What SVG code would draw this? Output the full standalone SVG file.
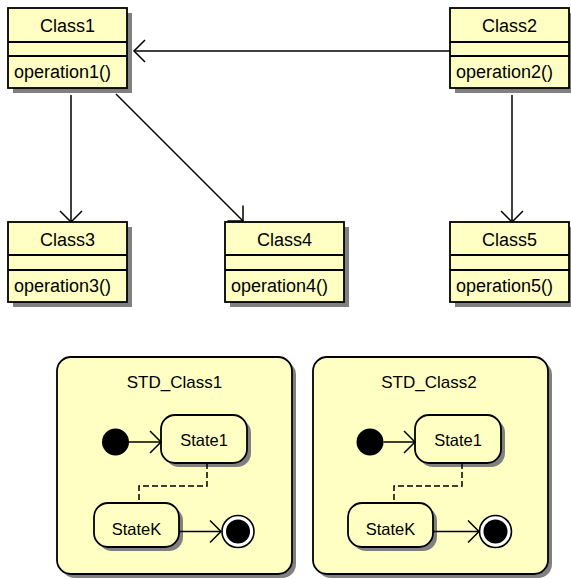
<svg xmlns="http://www.w3.org/2000/svg" width="571" height="579" viewBox="0 0 571 579">
  <style>
    .shadow { fill: #808080; stroke: none; }
    .box { fill: #FFFFC4; stroke: #000; stroke-width: 1.8; }
    .div { stroke: #000; stroke-width: 1.8; fill: none; }
    .t { font-family: "Liberation Sans", Arial, sans-serif; fill: #000; }
    .title { font-size: 18px; text-anchor: middle; }
    .op { font-size: 18px; }
    .std { font-size: 17px; text-anchor: middle; }
    .st { font-size: 16.5px; text-anchor: middle; }
    .edge { stroke: #000; stroke-width: 1.5; fill: none; }
    .dash { stroke: #000; stroke-width: 1.5; fill: none; stroke-dasharray: 6 3; }
    .dot { fill: #000; }
    .final { fill: #fff; stroke: #000; stroke-width: 1.6; }
  </style>
  <defs>
    <marker id="open" markerUnits="userSpaceOnUse" viewBox="-13 -13 15 26" markerWidth="15" markerHeight="26" refX="0" refY="0" orient="auto" overflow="visible">
      <path d="M-11,-11 L0,0 L-11,11" fill="none" stroke="#000" stroke-width="1.5"/>
    </marker>
  </defs>

  <rect width="571" height="579" fill="#fff"/>

  <!-- class boxes -->
  <g id="Class1">
    <rect class="shadow" x="13" y="13" width="119" height="80"/>
    <rect class="box" x="8" y="8" width="119" height="80"/>
    <path class="div" d="M8,42 H127 M8,56 H127"/>
    <text class="t title" x="67.5" y="32">Class1</text>
    <text class="t op" x="14" y="78">operation1()</text>
  </g>
  <g id="Class2">
    <rect class="shadow" x="455" y="13" width="119" height="80"/>
    <rect class="box" x="450" y="8" width="119" height="80"/>
    <path class="div" d="M450,42 H569 M450,56 H569"/>
    <text class="t title" x="509.5" y="32">Class2</text>
    <text class="t op" x="456" y="78">operation2()</text>
  </g>
  <g id="Class3">
    <rect class="shadow" x="13" y="227" width="119" height="80"/>
    <rect class="box" x="8" y="222" width="119" height="80"/>
    <path class="div" d="M8,255 H127 M8,270 H127"/>
    <text class="t title" x="67.5" y="246">Class3</text>
    <text class="t op" x="14" y="292">operation3()</text>
  </g>
  <g id="Class4">
    <rect class="shadow" x="230" y="227" width="119" height="80"/>
    <rect class="box" x="225" y="222" width="119" height="80"/>
    <path class="div" d="M225,255 H344 M225,270 H344"/>
    <text class="t title" x="284.5" y="246">Class4</text>
    <text class="t op" x="231" y="292">operation4()</text>
  </g>
  <g id="Class5">
    <rect class="shadow" x="455" y="227" width="119" height="80"/>
    <rect class="box" x="450" y="222" width="119" height="80"/>
    <path class="div" d="M450,255 H569 M450,270 H569"/>
    <text class="t title" x="509.5" y="246">Class5</text>
    <text class="t op" x="456" y="292">operation5()</text>
  </g>

  <!-- associations between classes -->
  <g id="class-connectors">
    <path class="edge" d="M450,51 H134" marker-end="url(#open)"/>
    <path class="edge" d="M71,95 V222" marker-end="url(#open)"/>
    <path class="edge" d="M116,94 L243,221" marker-end="url(#open)"/>
    <path class="edge" d="M512,95 V222" marker-end="url(#open)"/>
  </g>

  <!-- state machine for Class1 -->
  <g id="STD_Class1">
    <rect class="shadow" x="61" y="361" width="235" height="217" rx="14"/>
    <rect class="box" x="57" y="357" width="235" height="217" rx="14"/>
    <text class="t std" x="174.5" y="388">STD_Class1</text>
  </g>
  <g id="STD1_initial">
    <circle class="dot" cx="115.5" cy="442" r="13.5"/>
  </g>
  <g id="STD1_State1">
    <rect class="shadow" x="165" y="419" width="86" height="48" rx="14"/>
    <rect class="box" x="161" y="415" width="86" height="48" rx="14"/>
    <text class="t st" x="204" y="446">State1</text>
  </g>
  <g id="STD1_StateK">
    <rect class="shadow" x="98" y="507" width="85" height="44" rx="14"/>
    <rect class="box" x="94" y="503" width="85" height="44" rx="14"/>
    <text class="t st" x="136.5" y="535">StateK</text>
  </g>
  <g id="STD1_final">
    <circle class="final" cx="238" cy="531.5" r="16"/>
    <circle class="dot" cx="238" cy="531.5" r="12"/>
  </g>

  <!-- state machine for Class2 -->
  <g id="STD_Class2">
    <rect class="shadow" x="317" y="361" width="235" height="217" rx="14"/>
    <rect class="box" x="313" y="357" width="235" height="217" rx="14"/>
    <text class="t std" x="429" y="388">STD_Class2</text>
  </g>
  <g id="STD2_initial">
    <circle class="dot" cx="370" cy="442" r="13.5"/>
  </g>
  <g id="STD2_State1">
    <rect class="shadow" x="419" y="419" width="86" height="48" rx="14"/>
    <rect class="box" x="415" y="415" width="86" height="48" rx="14"/>
    <text class="t st" x="458" y="446">State1</text>
  </g>
  <g id="STD2_StateK">
    <rect class="shadow" x="352" y="507" width="85" height="44" rx="14"/>
    <rect class="box" x="348" y="503" width="85" height="44" rx="14"/>
    <text class="t st" x="390.5" y="535">StateK</text>
  </g>
  <g id="STD2_final">
    <circle class="final" cx="495.5" cy="531.5" r="16"/>
    <circle class="dot" cx="495.5" cy="531.5" r="12"/>
  </g>

  <!-- transitions inside the state machines -->
  <g id="state-connectors">
    <path class="edge" d="M129,442 H161" marker-end="url(#open)"/>
    <path class="dash" d="M207,463 V486 H139 V503"/>
    <path class="edge" d="M179,531.5 H221" marker-end="url(#open)"/>
    <path class="edge" d="M383.5,442 H415" marker-end="url(#open)"/>
    <path class="dash" d="M462,463 V486 H394 V503"/>
    <path class="edge" d="M433,531.5 H479" marker-end="url(#open)"/>
  </g>
</svg>
